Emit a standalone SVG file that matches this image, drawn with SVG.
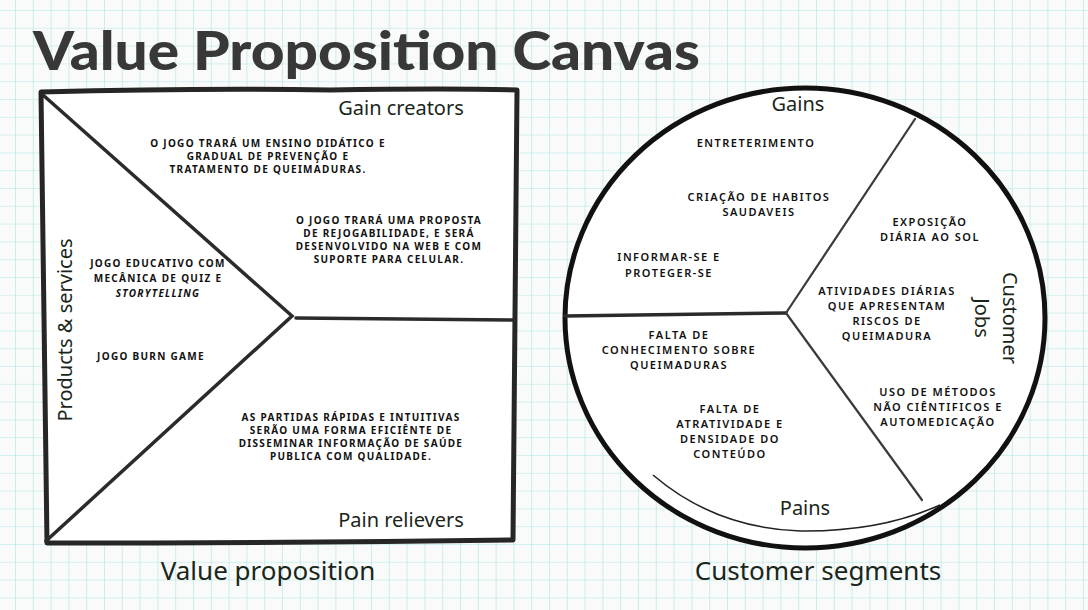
<svg xmlns="http://www.w3.org/2000/svg" width="1088" height="610" viewBox="0 0 1088 610">
  <defs>
    <pattern id="grid" x="15" y="10" width="17.8" height="17.8" patternUnits="userSpaceOnUse">
      <path d="M0 0 H17.8 M0 0 V17.8" fill="none" stroke="#aee3e3" stroke-width="1.2"/>
    </pattern>
    <style>
      .title { font-family: "Lato", "Inter", sans-serif; font-weight: 900; font-size: 53px; fill: #383838; }
      .hand { font-family: "Noto Sans", "DejaVu Sans", sans-serif; font-weight: 400; fill: #1a261a; }
      .lbl { font-size: 20px; }
      .big { font-size: 26px; }
      .sq { font-family: "Noto Sans", "DejaVu Sans", sans-serif; font-weight: 700; font-size: 10px; fill: #111; text-anchor: middle; letter-spacing: 1.3px; }
      .ci { font-family: "Noto Sans", "DejaVu Sans", sans-serif; font-weight: 600; font-size: 11px; fill: #111; text-anchor: middle; letter-spacing: 1.5px; }
      .frame { fill: #ffffff; stroke: #262626; stroke-width: 5; stroke-linejoin: round; stroke-linecap: round; }
      .div { fill: none; stroke: #2b2b2b; stroke-width: 3.5; stroke-linecap: round; }
      .thin { fill: none; stroke: #3a3a3a; stroke-width: 2.2; stroke-linecap: round; }
    </style>
  </defs>

  <!-- background grid paper -->
  <rect x="0" y="0" width="1088" height="610" fill="#f9fbfa"/>
  <rect x="0" y="0" width="1088" height="610" fill="url(#grid)"/>

  <!-- title -->
  <text class="title" x="33" y="70" textLength="667" lengthAdjust="spacingAndGlyphs">Value Proposition Canvas</text>

  <!-- Value proposition square -->
  <g id="value-proposition">
    <path class="frame" d="M41 92 Q200 88 330 90 Q450 88 517 90 Q515 320 513 540 Q300 543 47 543 Q44 320 41 92 Z"/>
    <path class="div" d="M43 95 L292 316 L46 541"/>
    <path class="div" d="M296 318 L513 320"/>
    <text class="hand lbl" x="401" y="115" text-anchor="middle">Gain creators</text>
    <text class="hand lbl" x="401" y="527" text-anchor="middle">Pain relievers</text>
    <text class="hand lbl" transform="translate(72 330) rotate(-90)" text-anchor="middle" font-size="22">Products &amp; services</text>
    <text class="hand big" x="268" y="580" text-anchor="middle">Value proposition</text>
  </g>

  <g id="gain-creator-1">
    <text class="sq" x="268" y="147">O JOGO TRARÁ UM ENSINO DIDÁTICO E</text>
    <text class="sq" x="268" y="160">GRADUAL DE PREVENÇÃO E</text>
    <text class="sq" x="268" y="173">TRATAMENTO DE QUEIMADURAS.</text>
  </g>
  <g id="gain-creator-2">
    <text class="sq" x="389" y="224">O JOGO TRARÁ UMA PROPOSTA</text>
    <text class="sq" x="389" y="237">DE REJOGABILIDADE, E SERÁ</text>
    <text class="sq" x="389" y="250">DESENVOLVIDO NA WEB E COM</text>
    <text class="sq" x="389" y="263">SUPORTE PARA CELULAR.</text>
  </g>
  <g id="product-1">
    <text class="sq" x="158" y="267">JOGO EDUCATIVO COM</text>
    <text class="sq" x="158" y="282">MECÂNICA DE QUIZ E</text>
    <text class="sq" x="158" y="297" font-style="italic">STORYTELLING</text>
  </g>
  <g id="product-2">
    <text class="sq" x="151" y="360">JOGO BURN GAME</text>
  </g>
  <g id="pain-reliever-1">
    <text class="sq" x="351" y="421">AS PARTIDAS RÁPIDAS E INTUITIVAS</text>
    <text class="sq" x="351" y="434">SERÃO UMA FORMA EFICIÊNTE DE</text>
    <text class="sq" x="351" y="447">DISSEMINAR INFORMAÇÃO DE SAÚDE</text>
    <text class="sq" x="351" y="460">PUBLICA COM QUALIDADE.</text>
  </g>

  <!-- Customer segments circle -->
  <g id="customer-segments">
    <ellipse cx="805" cy="318" rx="240" ry="230" fill="#ffffff" stroke="#111" stroke-width="5"/>
    <path d="M653 475 Q715 528 800 531 Q880 532 940 505" fill="none" stroke="#222" stroke-width="1.6"/>
    <text class="hand lbl" x="798" y="111" text-anchor="middle">Gains</text>
    <text class="hand lbl" x="805" y="515" text-anchor="middle">Pains</text>
    <text class="hand lbl" transform="translate(1003 318) rotate(90)" text-anchor="middle" font-size="23">Customer</text>
    <text class="hand lbl" transform="translate(975 318) rotate(90)" text-anchor="middle" font-size="23">Jobs</text>
    <text class="hand big" x="818" y="580" text-anchor="middle" font-size="27">Customer segments</text>
  </g>

  <g id="connectors">
    <path class="div" d="M565 316 L786 313"/>
    <path class="thin" d="M786 313 L915 119"/>
    <path class="thin" d="M786 313 L922 500"/>
  </g>

  <g id="gain-1">
    <text class="ci" x="756" y="147">ENTRETERIMENTO</text>
  </g>
  <g id="gain-2">
    <text class="ci" x="759" y="201">CRIAÇÃO DE HABITOS</text>
    <text class="ci" x="759" y="216">SAUDAVEIS</text>
  </g>
  <g id="gain-3">
    <text class="ci" x="669" y="261">INFORMAR-SE E</text>
    <text class="ci" x="669" y="277">PROTEGER-SE</text>
  </g>
  <g id="job-1">
    <text class="ci" x="930" y="226">EXPOSIÇÃO</text>
    <text class="ci" x="930" y="241">DIÁRIA AO SOL</text>
  </g>
  <g id="job-2">
    <text class="ci" x="887" y="295">ATIVIDADES DIÁRIAS</text>
    <text class="ci" x="887" y="310">QUE APRESENTAM</text>
    <text class="ci" x="887" y="325">RISCOS DE</text>
    <text class="ci" x="887" y="340">QUEIMADURA</text>
  </g>
  <g id="job-3">
    <text class="ci" x="938" y="396">USO DE MÉTODOS</text>
    <text class="ci" x="938" y="411">NÃO CIÊNTIFICOS E</text>
    <text class="ci" x="938" y="426">AUTOMEDICAÇÃO</text>
  </g>
  <g id="pain-1">
    <text class="ci" x="679" y="339">FALTA DE</text>
    <text class="ci" x="679" y="354">CONHECIMENTO SOBRE</text>
    <text class="ci" x="679" y="369">QUEIMADURAS</text>
  </g>
  <g id="pain-2">
    <text class="ci" x="730" y="413">FALTA DE</text>
    <text class="ci" x="730" y="428">ATRATIVIDADE E</text>
    <text class="ci" x="730" y="443">DENSIDADE DO</text>
    <text class="ci" x="730" y="458">CONTEÚDO</text>
  </g>
</svg>
